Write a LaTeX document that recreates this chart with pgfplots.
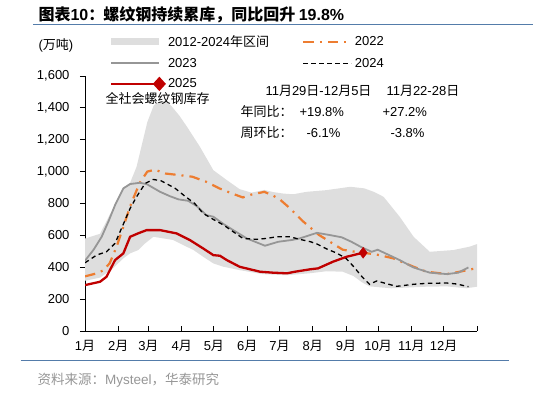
\documentclass[border=0pt]{standalone}
\usepackage{fontspec}
\setmainfont{Liberation Sans}
\newfontfamily\cjk{Noto Sans CJK SC}
\usepackage{pgfplots}
\usepackage{pgfplotstable}
\pgfplotsset{compat=1.18}

\definecolor{bandgray}{RGB}{222,222,222}
\definecolor{or22}{RGB}{237,125,49}
\definecolor{gr23}{RGB}{150,150,150}
\definecolor{red25}{RGB}{192,0,0}
\definecolor{rulec}{RGB}{84,124,170}
\definecolor{srcgray}{RGB}{150,150,150}

\newcommand{\zh}[1]{{\cjk #1}}
\newcommand{\fsz}[1]{\fontsize{#1bp}{#1bp}\selectfont}

% 2012-2024 range: upper edge left to right, then lower edge right to left
\pgfplotstableread{
d v
0 580
14 610
28 795
36 900
42 930
48 1030
53 1170
58 1310
64 1415
69 1440
74 1445
80 1415
88 1350
95 1281
107 1156
119.5 1009
132 947
144 890
155 868
167 885
175 872
185 862
194 858
206 873
225 884
247 905
260 895
269 873
278 842
293 717
306 591
321 497
343 508
358 529
365 545
365 278
355 268
337 280
318 278
285 268
265 280
258 305
250 345
240 372
225 375
209 362
188 350
165 357
144 382
129 403
119.5 424
110 466
101 508
91.5 539
82 571
73 581
63.6 591
56 550
49.6 508
42 487
35.7 456
26 393
14 335
0 315
}\band

\pgfplotstableread{
d v
0 343
10 360
17 380
23 425
29.5 530
36 660
43 800
51 930
58 1000
65 1012
75 988
88 978
100 968
113 936
125 895
138 860
147 838
155 856
167 873
175 850
182 822
191 769
203 688
218 602
240 510
256 492
270 482
287 456
306 403
318 372
337 357
349 372
365 395
}\yrA

\pgfplotstableread{
d v
0 441
8 510
15.5 591
22 690
28 790
35.7 895
42 922
51 930
57.4 922
70 873
79 846
87 826
96 817
104 784
113 727
119.5 717
129 671
138 633
150.6 581
167.6 535
180 560
192.5 571
200 581
216 616
228 602
239 588
248 560
257.6 525
267 497
272.5 510
281 483
293 445
305.7 399
321 366
337 357
347.6 366
357 399
}\yrB

\pgfplotstableread{
d v
0 428
11 477
20 497
28 550
34 644
42 769
48 842
56 926
63.6 951
71 942
84 895
93 846
102 801
110 738
119.5 700
129 665
138 623
147 581
160 575
169 581
178.5 591
191 591
200 575
210 560
216 546
225 515
234 490
243 456
250 405
258 340
265 293
271.6 314
290 280
305.7 293
318 299
337 301
346 295
357 278
}\yrC

\pgfplotstableread{
d v
0 288
14 309
20 340
28 445
35.7 487
42 591
49.6 613
57.4 633
70 633
85.4 612
97.8 570
110 518
119.5 476
125.7 472
132 445
144 403
163 372
175 366
188 362
195.5 372
209.5 387
217 393
231 435
243.7 466
259 491
}\yrD

\begin{document}
\begin{tikzpicture}
\path[use as bounding box] (0bp,0bp) rectangle (538bp,393bp);

\begin{axis}[
  at={(85bp,62bp)}, anchor=south west,
  scale only axis, width=392bp, height=255bp,
  xmin=0, xmax=365, ymin=0, ymax=1600,
  axis x line*=bottom, axis y line*=left,
  axis line style={-, line width=0.9bp, black},
  xtick={0,31,59,90,120,151,181,212,243,273,304,334,365},
  xticklabels={1\zh{月},2\zh{月},3\zh{月},4\zh{月},5\zh{月},6\zh{月},7\zh{月},8\zh{月},9\zh{月},10\zh{月},11\zh{月},12\zh{月},{}},
  ytick={0,200,...,1600},
  xtick align=inside, ytick align=outside,
  major tick length=5bp,
  tick style={line width=0.8bp, black},
  /pgf/number format/assume math mode=true,
  /pgf/number format/1000 sep={,},
  ticklabel style={font=\fsz{13}},
  yticklabel style={xshift=-7bp},
  xticklabel style={yshift=-6bp},
  legend image code/.code={\draw[#1] (0bp,0bp) -- (48bp,0bp);},
  legend columns=2,
  legend cell align=left,
  legend style={
    at={(0.0638,1.167)}, anchor=north west,
    draw=none, fill=none, inner sep=0pt,
    font=\fsz{13},
    row sep=6bp,
    /tikz/every odd column/.append style={column sep=0.5bp},
    /tikz/every even column/.append style={column sep=31bp},
  },
]
\addplot[fill=bandgray, draw=none,
  legend image code/.code={\fill[bandgray] (0bp,-3.5bp) rectangle (48bp,3.5bp);}]
  table {\band};
\addlegendentry{2012-2024\zh{年区间}}

\addplot[or22, line width=2.2bp, dash pattern=on 10.5bp off 6bp on 2bp off 6bp] table {\yrA};
\addlegendentry{2022}

\addplot[gr23, line width=1.8bp] table {\yrB};
\addlegendentry{2023}

\addplot[black, line width=1.3bp, dash pattern=on 4.5bp off 3.5bp] table {\yrC};
\addlegendentry{2024}

\addplot[red25, line width=2.3bp,
  legend image code/.code={\draw[red25, line width=2.3bp] (0bp,0bp) -- (48bp,0bp);
    \fill[red25] (48bp,0bp) +(0bp,-5.5bp) -- +(5bp,0bp) -- +(0bp,5.5bp) -- +(-5bp,0bp) -- cycle;}]
  table {\yrD};
\addlegendentry{2025}

% latest week of 2025
\addplot[only marks, red25, mark=diamond*, mark size=5.5bp, forget plot] coordinates {(259,491)};
\end{axis}

% heading
\node[anchor=west, font=\fsz{16}\bfseries] at (35bp,378bp)
  {\zh{图表}10\zh{：}\hspace{-1bp}\zh{螺纹钢持续累库，同比回升}\hspace{-1bp} 19.8\%};
\draw[rulec, line width=1.1bp] (33bp,368.5bp) -- (533bp,368.5bp);

% unit
\node[anchor=west, font=\fsz{13}] at (35bp,348bp) {(\zh{万吨})};

% annotations
\node[font=\fsz{13}] at (157.5bp,294bp) {\zh{全社会螺纹钢库存}};
\node[anchor=west, font=\fsz{13}] at (262bp,302bp) {11\zh{月}29\zh{日}-12\zh{月}5\zh{日}};
\node[anchor=west, font=\fsz{13}] at (383bp,302bp) {11\zh{月}22-28\zh{日}};
\node[anchor=west, font=\fsz{13}] at (237bp,281bp) {\zh{年同比：}};
\node[anchor=west, font=\fsz{13}] at (296bp,281bp) {+19.8\%};
\node[anchor=west, font=\fsz{13}] at (379bp,281bp) {+27.2\%};
\node[anchor=west, font=\fsz{13}] at (237bp,260bp) {\zh{周环比：}};
\node[anchor=west, font=\fsz{13}] at (303bp,260bp) {-6.1\%};
\node[anchor=west, font=\fsz{13}] at (387bp,260bp) {-3.8\%};

% source
\draw[rulec, line width=0.9bp] (20.5bp,32.3bp) -- (509bp,32.3bp);
\node[anchor=west, text=srcgray, font=\fsz{13.5}] at (34bp,13bp) {\zh{资料来源：}Mysteel\zh{，华泰研究}};
\end{tikzpicture}
\end{document}
